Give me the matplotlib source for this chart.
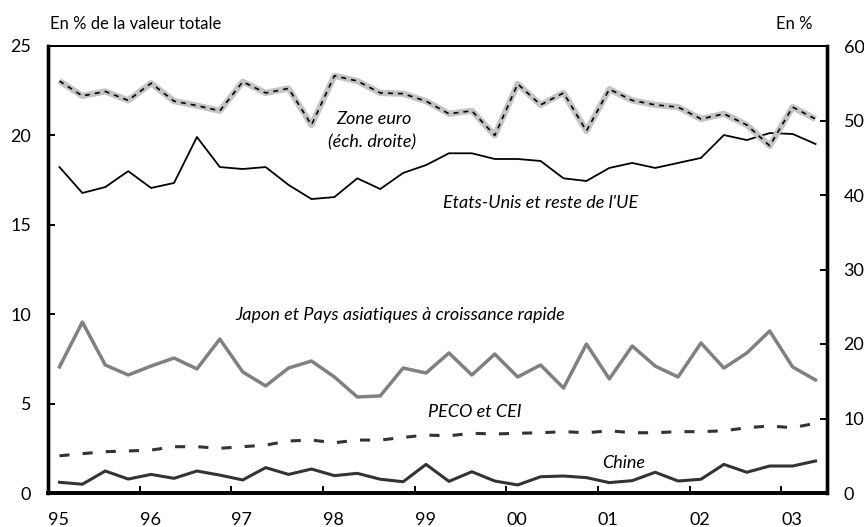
import numpy as np
import matplotlib
matplotlib.use("Agg")
import matplotlib.pyplot as plt

plt.rcParams['font.family'] = ['Lato', 'DejaVu Sans']

# trimestres 1995T1 .. 2003T2, placés au milieu du trimestre
trimestres = 1995.125 + 0.25 * np.arange(34)

zone_euro = [55.3, 53.3, 53.9, 52.7, 55.0, 52.6, 52.0, 51.3, 55.2, 53.7,
             54.3, 49.4, 56.0, 55.3, 53.7, 53.6, 52.6, 50.9, 51.3, 48.0,
             54.9, 52.1, 53.7, 48.6, 54.2, 52.7, 52.1, 51.8, 50.2, 50.9,
             49.4, 46.6, 51.8, 50.2]

etats_unis = [18.23, 16.78, 17.11, 18.0, 17.06, 17.34, 19.91, 18.23, 18.12, 18.23,
              17.23, 16.44, 16.55, 17.6, 17.0, 17.9, 18.34, 19.0, 19.0, 18.68,
              18.68, 18.57, 17.6, 17.45, 18.18, 18.46, 18.18, 18.46, 18.74, 20.02,
              19.74, 20.13, 20.08, 19.52]

japon = [7.05, 9.56, 7.16, 6.6, 7.1, 7.55, 6.94, 8.61, 6.77, 5.99,
         6.99, 7.38, 6.49, 5.37, 5.43, 6.99, 6.71, 7.83, 6.6, 7.77,
         6.49, 7.16, 5.87, 8.33, 6.38, 8.22, 7.1, 6.49, 8.39, 6.99,
         7.83, 9.06, 7.05, 6.32]

peco = [2.08, 2.2, 2.31, 2.35, 2.4, 2.59, 2.59, 2.5, 2.59, 2.68,
        2.91, 2.96, 2.81, 2.96, 2.96, 3.11, 3.24, 3.2, 3.34, 3.3,
        3.34, 3.37, 3.43, 3.37, 3.48, 3.37, 3.37, 3.43, 3.43, 3.48,
        3.65, 3.75, 3.65, 3.9]

chine = [0.6, 0.49, 1.23, 0.78, 1.04, 0.82, 1.23, 1.0, 0.73, 1.42,
         1.04, 1.34, 0.97, 1.1, 0.77, 0.63, 1.6, 0.65, 1.19, 0.67,
         0.45, 0.91, 0.95, 0.86, 0.58, 0.69, 1.16, 0.67, 0.77, 1.6,
         1.16, 1.51, 1.51, 1.79]

annees = [1995, 1996, 1997, 1998, 1999, 2000, 2001, 2002, 2003]
annees_lab = ['95', '96', '97', '98', '99', '00', '01', '02', '03']

fig = plt.figure(figsize=(8.64, 5.27), dpi=100)
ax = fig.add_axes([48/864, 34/527, 779/864, 447/527])
ax2 = ax.twinx()

ax.plot(trimestres, etats_unis, color='black', lw=1.3)
ax.plot(trimestres, japon, color='#808080', lw=2.5)
ax.plot(trimestres, peco, color='#333333', lw=2.2, dashes=(3.3, 4.3))
ax.plot(trimestres, chine, color='#333333', lw=2.2)

# zone euro : trait gris épais avec tirets noirs par-dessus
ax2.plot(trimestres, zone_euro, color='#c4c4c4', lw=4.5, solid_capstyle='butt')
ax2.plot(trimestres, zone_euro, color='black', lw=1.2, dashes=(3, 3))

ax.set_xlim(1995, 2003.5)
ax.set_ylim(0, 25)
ax2.set_ylim(0, 60)
ax.set_yticks([0, 5, 10, 15, 20, 25])
ax2.set_yticks([0, 10, 20, 30, 40, 50, 60])
ax.set_xticks(annees)
ax.set_xticklabels(annees_lab)
for lab in ax.get_xticklabels():
    lab.set_ha('left')

ax.tick_params(axis='both', direction='in', length=5, width=1.4, labelsize=13)
ax.tick_params(axis='y', pad=12)
ax.tick_params(axis='x', pad=14)
ax2.tick_params(axis='y', direction='in', length=5, width=1.4, labelsize=13, pad=12)

for a in (ax, ax2):
    a.spines['top'].set_linewidth(1.3)
    a.spines['bottom'].set_linewidth(2.6)
    a.spines['left'].set_linewidth(2.4)
    a.spines['right'].set_linewidth(2.4)

fig.text(50/864, 1 - 24/527, "En % de la valeur totale", fontsize=12, va='center', ha='left')
fig.text(812/864, 1 - 24/527, "En %", fontsize=12, va='center', ha='right')

# libellés des séries (positions en pixels de la figure)
def fig_pt(x, y):
    return x/864, 1 - y/527

txt = dict(fontsize=13, style='italic', ha='center', va='center')
for (x, y, s) in [(374, 119, "Zone euro"), (372, 142, "(éch. droite)"),
                  (541, 203, "Etats-Unis et reste de l'UE"),
                  (400, 315, "Japon et Pays asiatiques à croissance rapide"),
                  (475, 412, "PECO et CEI"), (624, 463, "Chine")]:
    fig.text(*fig_pt(x, y), s, **txt)

fig.savefig("out.png", dpi=100)
